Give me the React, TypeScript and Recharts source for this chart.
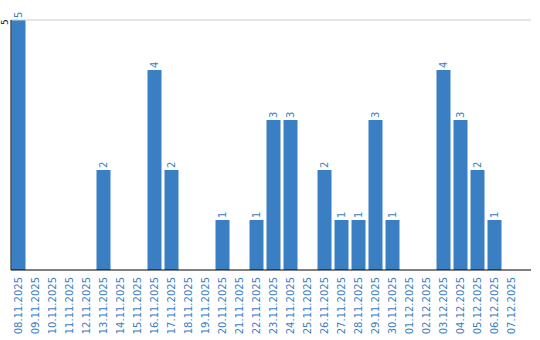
import React from "react";
import { BarChart, Bar, XAxis, YAxis, ReferenceLine, LabelList } from "recharts";

const categories = [
  "08.11.2025", "09.11.2025", "10.11.2025", "11.11.2025", "12.11.2025",
  "13.11.2025", "14.11.2025", "15.11.2025", "16.11.2025", "17.11.2025",
  "18.11.2025", "19.11.2025", "20.11.2025", "21.11.2025", "22.11.2025",
  "23.11.2025", "24.11.2025", "25.11.2025", "26.11.2025", "27.11.2025",
  "28.11.2025", "29.11.2025", "30.11.2025", "01.12.2025", "02.12.2025",
  "03.12.2025", "04.12.2025", "05.12.2025", "06.12.2025", "07.12.2025",
];
const counts = [5, 0, 0, 0, 0, 2, 0, 0, 4, 2, 0, 0, 1, 0, 1, 3, 3, 0, 2, 1, 1, 3, 1, 0, 0, 4, 3, 2, 1, 0];
const yMax = 5;

const data = categories.map((d, i) => ({ date: d, count: counts[i] }));

const BLUE = "#3a7ec3";
const FONT = "DejaVu Sans, Verdana, sans-serif";

const renderXTick = (props: any) => {
  const { x, y, payload } = props;
  return (
    <text
      x={x}
      y={y}
      transform={`rotate(-90, ${x}, ${y})`}
      textAnchor="end"
      dominantBaseline="central"
      fill={BLUE}
      fontSize={10}
      fontFamily={FONT}
    >
      {payload.value}
    </text>
  );
};

const renderMaxLabel = (props: any) => {
  const vb = props.viewBox || {};
  const tx = vb.x - 6;
  const ty = vb.y + 2;
  return (
    <text
      x={tx}
      y={ty}
      transform={`rotate(-90, ${tx}, ${ty})`}
      textAnchor="middle"
      dominantBaseline="central"
      fill="#111111"
      fontSize={9}
      fontFamily={FONT}
    >
      {String(yMax)}
    </text>
  );
};

const ValueLabel = (props: any) => {
  const { x, y, width, value } = props;
  if (!value) return null;
  const cx = x + width / 2;
  const cy = y - 2;
  return (
    <text
      x={cx}
      y={cy}
      transform={`rotate(-90, ${cx}, ${cy})`}
      textAnchor="start"
      dominantBaseline="central"
      fill={BLUE}
      fontSize={10}
      fontFamily={FONT}
    >
      {value}
    </text>
  );
};

export default function App() {
  return (
    <div style={{ position: "absolute", left: 0, top: 0, background: "#fff" }}>
      <BarChart
        width={540}
        height={340}
        data={data}
        margin={{ top: 20, right: 9, bottom: 0, left: 0 }}
      >
        <XAxis
          dataKey="date"
          interval={0}
          tickLine={false}
          axisLine={{ stroke: "#000", strokeWidth: 1 }}
          tick={renderXTick}
          tickSize={0}
          tickMargin={7}
          height={70}
          padding={{ left: -1.5, right: 11.5 }}
        />
        <YAxis
          type="number"
          domain={[0, yMax]}
          width={11}
          tick={false}
          tickLine={false}
          axisLine={{ stroke: "#000", strokeWidth: 1 }}
        />
        <ReferenceLine y={yMax} stroke="#cccccc" strokeWidth={1} label={renderMaxLabel} />
        <Bar dataKey="count" fill={BLUE} barSize={14} isAnimationActive={false}>
          <LabelList dataKey="count" content={<ValueLabel />} />
        </Bar>
      </BarChart>
    </div>
  );
}
